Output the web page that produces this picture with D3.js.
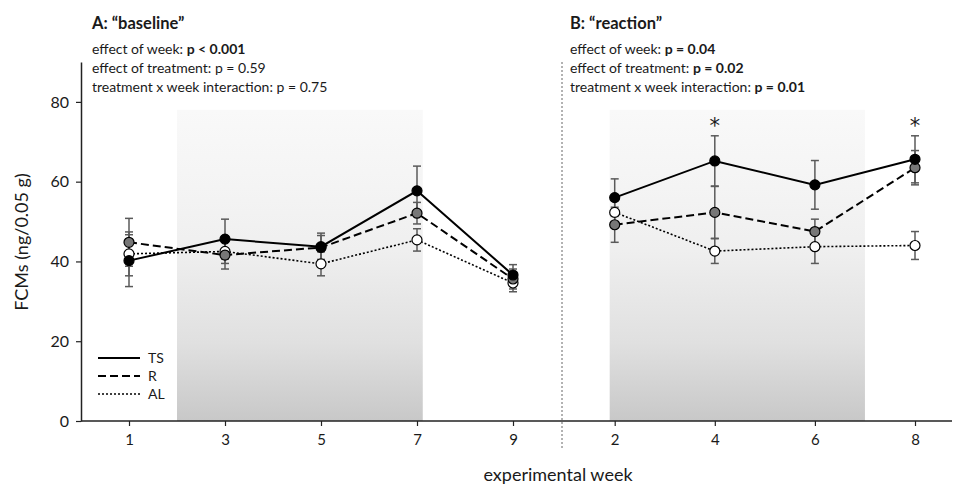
<!DOCTYPE html>
<html><head><meta charset="utf-8">
<script src="https://cdn.jsdelivr.net/npm/d3@7"></script>
<style>body{margin:0;background:#fff}svg{display:block}text{font-family:Lato,"Open Sans",sans-serif;fill:#1a1a1a}</style>
</head><body><svg id="c" width="955" height="487"></svg>
<script>
// ---- data ----
const weeksA = [1, 3, 5, 7, 9];
const weeksB = [2, 4, 6, 8];
const groups = ["TS", "R", "AL"];
const tsA = [40.2, 45.6, 43.7, 57.7, 36.6];
const tsAerr = [6.5, 5.0, 3.4, 6.2, 2.6];
const rA = [44.8, 41.6, 43.5, 52.1, 35.6];
const rAerr = [6.0, 3.5, 3.0, 2.7, 2.5];
const alA = [41.9, 42.5, 39.4, 45.4, 34.6];
const alAerr = [5.5, 3.0, 3.0, 2.8, 2.2];
const tsB = [56.0, 65.2, 59.2, 65.6];
const tsBerr = [4.7, 6.3, 6.1, 5.9];
const rB = [49.2, 52.3, 47.5, 63.5];
const rBerr = [4.4, 6.5, 3.1, 4.3];
const alB = [52.3, 42.6, 43.7, 44.0];
const alBerr = [3.0, 3.1, 4.2, 3.5];
const yTicks = [0, 20, 40, 60, 80];
const shadeA = [2, 7.12];
const shadeB = [1.9, 7.0];
const shadeTop = 78;
const starWeeks = [4, 8];
const starLevel = 74.7;
const titleA = "A: \u201cbaseline\u201d";
const titleB = "B: \u201creaction\u201d";
const statsA = [["effect of week: ", "p < 0.001"], ["effect of treatment: p = 0.59", ""], ["treatment x week interaction: p = 0.75", ""]];
const statsB = [["effect of week: ", "p = 0.04"], ["effect of treatment: ", "p = 0.02"], ["treatment x week interaction: ", "p = 0.01"]];

// ---- layout ----
const svg = d3.select("#c");
const y = d3.scaleLinear().domain([0, 90]).range([421, 62]);
const xA = d3.scaleLinear().domain([1, 9]).range([129, 513]);
const xB = d3.scaleLinear().domain([2, 8]).range([614.7, 915]);
const axisLeftX = 81, divX = 562, rightEnd = 952;

const defs = svg.append("defs");
const grad = defs.append("linearGradient").attr("id", "shade").attr("x1", 0).attr("y1", 0).attr("x2", 0).attr("y2", 1);
[[0, "#f9f9f9"], [0.25, "#f4f4f4"], [0.45, "#efefef"], [0.75, "#e0e0e0"], [1, "#c8c8c8"]].forEach(s =>
  grad.append("stop").attr("offset", s[0]).attr("stop-color", s[1]));

function shade(x, ext) {
  svg.append("rect").attr("x", x(ext[0])).attr("y", y(shadeTop))
    .attr("width", x(ext[1]) - x(ext[0])).attr("height", y(0) - y(shadeTop))
    .attr("fill", "url(#shade)");
}
shade(xA, shadeA);
shade(xB, shadeB);

// y axis
const ya = svg.append("g").attr("transform", `translate(${axisLeftX},0)`)
  .call(d3.axisLeft(y).tickValues(yTicks).tickSize(5).tickPadding(7).tickSizeOuter(0));
ya.select(".domain").attr("stroke", "#222").attr("stroke-width", 1.5);
ya.selectAll(".tick line").attr("stroke", "#222").attr("stroke-width", 1.2);
ya.selectAll(".tick text").style("font-size", "16px").attr("fill", "#1a1a1a");

// x axes
function xaxis(x, weeks, x0, x1) {
  const g = svg.append("g").attr("transform", `translate(0,${y(0)})`)
    .call(d3.axisBottom(x).tickValues(weeks).tickFormat(d3.format("d")).tickSize(5).tickPadding(8));
  g.select(".domain").remove();
  g.selectAll(".tick line").attr("stroke", "#222").attr("stroke-width", 1.2);
  g.selectAll(".tick text").style("font-size", "15px").attr("fill", "#1a1a1a");
  svg.append("line").attr("x1", x0).attr("x2", x1).attr("y1", y(0)).attr("y2", y(0))
    .attr("stroke", "#222").attr("stroke-width", 1.5);
}
xaxis(xA, weeksA, axisLeftX, divX);
xaxis(xB, weeksB, divX, rightEnd);

// divider
svg.append("line").attr("x1", divX).attr("x2", divX).attr("y1", y(90)).attr("y2", 450)
  .attr("stroke", "#666").attr("stroke-width", 1).attr("stroke-dasharray", "2,2");

const styles = {
  TS: {dash: null, w: 2, fill: "#000"},
  R: {dash: "8,4", w: 2, fill: "#777"},
  AL: {dash: "2,2", w: 1.6, fill: "#fff"}
};

function panel(x, weeks, series) {
  const line = d3.line().x(d => x(d.w)).y(d => y(d.v));
  series.forEach(s => {
    const pts = weeks.map((w, i) => ({w, v: s.vals[i], e: s.errs[i]}));
    const st = styles[s.name];
    svg.append("path").datum(pts).attr("d", line).attr("fill", "none")
      .attr("stroke", "#000").attr("stroke-width", st.w)
      .attr("stroke-dasharray", st.dash);
  });
  series.forEach(s => {
    const pts = weeks.map((w, i) => ({w, v: s.vals[i], e: s.errs[i]}));
    const g = svg.append("g").attr("stroke", "#5a5a5a").attr("stroke-width", 1.5);
    pts.forEach(p => {
      const cx = x(p.w);
      g.append("line").attr("x1", cx).attr("x2", cx).attr("y1", y(p.v + p.e)).attr("y2", y(p.v - p.e));
      [p.v + p.e, p.v - p.e].forEach(v =>
        g.append("line").attr("x1", cx - 4).attr("x2", cx + 4).attr("y1", y(v)).attr("y2", y(v)));
    });
  });
  series.slice().reverse().forEach(s => {
    const st = styles[s.name];
    weeks.forEach((w, i) => {
      svg.append("circle").attr("cx", x(w)).attr("cy", y(s.vals[i])).attr("r", 5)
        .attr("fill", st.fill).attr("stroke", "#000").attr("stroke-width", 1.2);
    });
  });
}
panel(xA, weeksA, [{name: "TS", vals: tsA, errs: tsAerr}, {name: "R", vals: rA, errs: rAerr}, {name: "AL", vals: alA, errs: alAerr}]);
panel(xB, weeksB, [{name: "TS", vals: tsB, errs: tsBerr}, {name: "R", vals: rB, errs: rBerr}, {name: "AL", vals: alB, errs: alBerr}]);

// asterisks
starWeeks.forEach(w => svg.append("text").attr("x", xB(w)).attr("y", y(starLevel) + 10)
  .attr("text-anchor", "middle").style("font-size", "21px").style("font-family", "'DejaVu Sans',sans-serif")
  .attr("fill", "#111").text("*"));

// titles and stats
function header(x0, title, stats) {
  svg.append("text").attr("x", x0).attr("y", 29).style("font-size", "16.5px").style("font-weight", "bold").text(title);
  stats.forEach((s, i) => {
    const t = svg.append("text").attr("x", x0).attr("y", 54 + i * 19).style("font-size", "14px");
    t.append("tspan").text(s[0]);
    if (s[1]) t.append("tspan").style("font-weight", "bold").text(s[1]);
  });
}
header(92, titleA, statsA);
header(570, titleB, statsB);

// legend
groups.forEach((gname, i) => {
  const st = styles[gname];
  const ly = 358 + i * 18;
  svg.append("line").attr("x1", 98).attr("x2", 140).attr("y1", ly).attr("y2", ly)
    .attr("stroke", "#000").attr("stroke-width", st.w).attr("stroke-dasharray", st.dash);
  svg.append("text").attr("x", 148).attr("y", ly + 5).style("font-size", "14px").text(gname);
});

// axis labels
svg.append("text").attr("transform", `translate(28,242) rotate(-90)`).attr("text-anchor", "middle")
  .style("font-size", "18px").text("FCMs (ng/0.05 g)");
svg.append("text").attr("x", 558).attr("y", 481).attr("text-anchor", "middle")
  .style("font-size", "18px").text("experimental week");
</script></body></html>
